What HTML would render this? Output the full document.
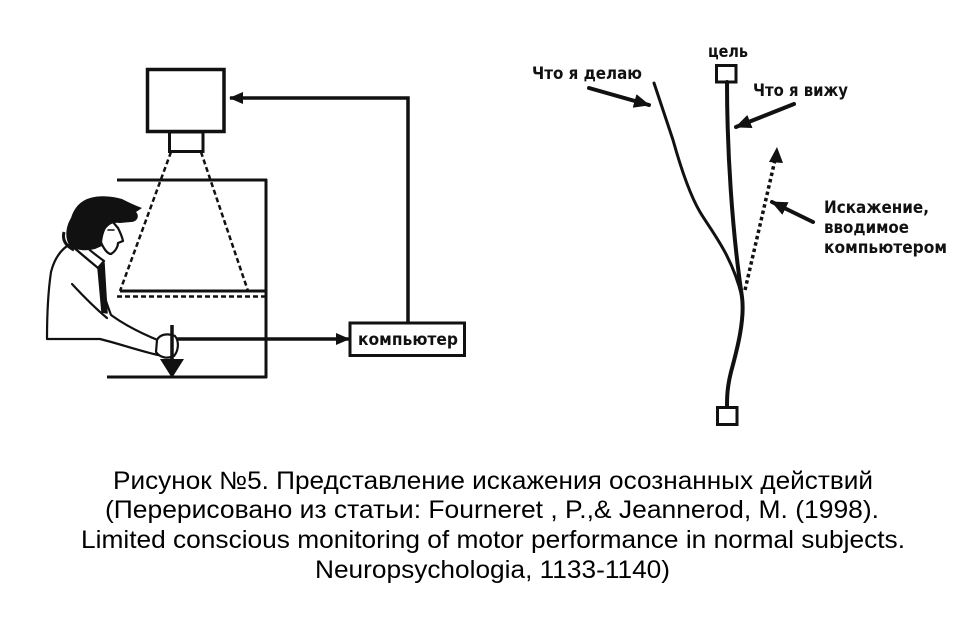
<!DOCTYPE html>
<html>
<head>
<meta charset="utf-8">
<style>
html,body{margin:0;padding:0;background:#fff;}
svg{display:block;}
.lbl{font-family:"DejaVu Sans","Liberation Sans",sans-serif;font-weight:bold;font-size:17px;fill:#111;}
.cap{font-family:"Liberation Sans","DejaVu Sans",sans-serif;font-size:25px;fill:#000;}
</style>
</head>
<body>
<svg width="974" height="626" viewBox="0 0 974 626" xmlns="http://www.w3.org/2000/svg">
<rect width="974" height="626" fill="#fff"/>
<defs>
<marker id="ah" markerWidth="14" markerHeight="12" refX="13" refY="6" orient="auto" markerUnits="userSpaceOnUse">
<path d="M0,0 L14,6 L0,12 Z" fill="#111"/>
</marker>
<marker id="ah2" markerWidth="16" markerHeight="14" refX="15" refY="7" orient="auto" markerUnits="userSpaceOnUse">
<path d="M0,0 L16,7 L0,14 Z" fill="#111"/>
</marker>
</defs>

<!-- LEFT PANEL -->
<g stroke="#111" fill="none" stroke-linecap="butt">
  <rect x="147.5" y="69.5" width="76.5" height="62" stroke-width="3.5"/>
  <rect x="169.5" y="132" width="33.5" height="19.5" stroke-width="3"/>
  <polyline points="408,322 408,98 230,98" stroke-width="3.5" marker-end="url(#ah)"/>
  <line x1="171" y1="152" x2="120" y2="291" stroke-width="2.5" stroke-dasharray="5,3"/>
  <line x1="201" y1="152" x2="248" y2="291" stroke-width="2.5" stroke-dasharray="5,3"/>
  <line x1="117" y1="180" x2="267" y2="180" stroke-width="3"/>
  <line x1="266" y1="179" x2="266" y2="378" stroke-width="3"/>
  <line x1="107" y1="377" x2="267" y2="377" stroke-width="3"/>
  <line x1="120" y1="291" x2="267" y2="291" stroke-width="3"/>
  <line x1="117" y1="296.5" x2="267" y2="296.5" stroke-width="2.5" stroke-dasharray="5,3"/>
  <line x1="172" y1="339" x2="349" y2="339" stroke-width="3.5" marker-end="url(#ah)"/>
  <rect x="350" y="323" width="114.5" height="32.5" stroke-width="3" fill="#fff"/>
</g>
<text class="lbl" x="358" y="345" textLength="100" lengthAdjust="spacingAndGlyphs" font-size="19">компьютер</text>

<!-- person -->
<g stroke="#111" stroke-width="2.2" fill="#fff" stroke-linejoin="round" stroke-linecap="round">
  <path d="M70,244 C60,250 54,260 51,272 C48,292 47,316 47,339 L100,339 C120,344 140,351 158,355 L160,341 C140,333 122,323 111,315 C105,300 101,285 99,268 C90,262 80,253 70,244 Z"/>
  <path d="M72,246 L98,268 L104,261 C96,255 86,248 80,240" fill="#fff"/>
  <path d="M98,268 L102,312 L107,313 L104,263" fill="#111" stroke-width="1.5"/>
  <path d="M72,284 C85,298 95,308 107,318" fill="none"/>
  <path d="M100,240 C104,250 108,254 111,254 C116,251 118,246 118,243 L123,241 C122,236 120,232 118,228 L112,221 C106,226 100,232 100,240 Z"/>
  <path d="M108,230 L114,230" fill="none" stroke-width="1.5"/>
  <path d="M157,340 C160,334 168,333 175,336 C179,341 179,350 174,356 C168,359 160,358 156,352 Z"/>
</g>
<path d="M70,246 C64,238 66,226 71,218 C74,208 80,201 90,198 C100,195 112,196 122,199 C128,202 134,205 142,208 L136,212 C140,216 137,222 131,222 L120,223 C114,222 110,224 106,228 C103,234 102,240 102,246 L95,249 C86,251 78,251 70,246 Z" fill="#111"/>
<path d="M74,250 C66,246 62,240 64,232" stroke="#111" stroke-width="3" fill="none"/>
<line x1="172" y1="325" x2="172" y2="360" stroke="#111" stroke-width="3.5"/>
<path d="M160,359 L184,359 L172,378 Z" fill="#111"/>

<!-- RIGHT PANEL -->
<g stroke="#111" fill="none" stroke-linecap="round">
  <rect x="716.5" y="65.5" width="19.5" height="16.5" stroke-width="3"/>
  <rect x="717.5" y="407.5" width="19.5" height="17" stroke-width="3"/>
  <path d="M727,82 C727,150 732,230 742,297 C745,320 737,350 731,372 C727,388 727,398 727,407" stroke-width="4"/>
  <path d="M654,83 L673,140 C680,165 690,195 700,212 C712,232 732,255 742,297" stroke-width="3"/>
  <line x1="745" y1="290" x2="775" y2="160" stroke-width="3.5" stroke-dasharray="3.5,3" stroke-linecap="butt"/>
  <line x1="589" y1="88" x2="649" y2="105" stroke-width="4" marker-end="url(#ah2)"/>
  <line x1="794" y1="104" x2="736" y2="127" stroke-width="4" marker-end="url(#ah2)"/>
  <line x1="813" y1="222" x2="772" y2="202" stroke-width="4" marker-end="url(#ah2)"/>
</g>
<path d="M777,147 L769,162 L783,163 Z" fill="#111"/>

<text class="lbl" x="708" y="57" textLength="40" lengthAdjust="spacingAndGlyphs">цель</text>
<text class="lbl" x="532" y="79" textLength="110" lengthAdjust="spacingAndGlyphs">Что я делаю</text>
<text class="lbl" x="753" y="96" textLength="95" lengthAdjust="spacingAndGlyphs">Что я вижу</text>
<text class="lbl" x="824" y="213" textLength="105" lengthAdjust="spacingAndGlyphs">Искажение,</text>
<text class="lbl" x="824" y="233" textLength="85" lengthAdjust="spacingAndGlyphs">вводимое</text>
<text class="lbl" x="824" y="253" textLength="123" lengthAdjust="spacingAndGlyphs">компьютером</text>

<!-- CAPTION -->
<text class="cap" x="113" y="489" textLength="760" lengthAdjust="spacingAndGlyphs">Рисунок №5. Представление искажения осознанных действий</text>
<text class="cap" x="105" y="518" textLength="774" lengthAdjust="spacingAndGlyphs">(Перерисовано из статьи: Fourneret , P.,&amp; Jeannerod, M. (1998).</text>
<text class="cap" x="81" y="548" textLength="824" lengthAdjust="spacingAndGlyphs">Limited conscious monitoring of motor performance in normal subjects.</text>
<text class="cap" x="315" y="578" textLength="355" lengthAdjust="spacingAndGlyphs">Neuropsychologia, 1133-1140)</text>
</svg>
</body>
</html>
